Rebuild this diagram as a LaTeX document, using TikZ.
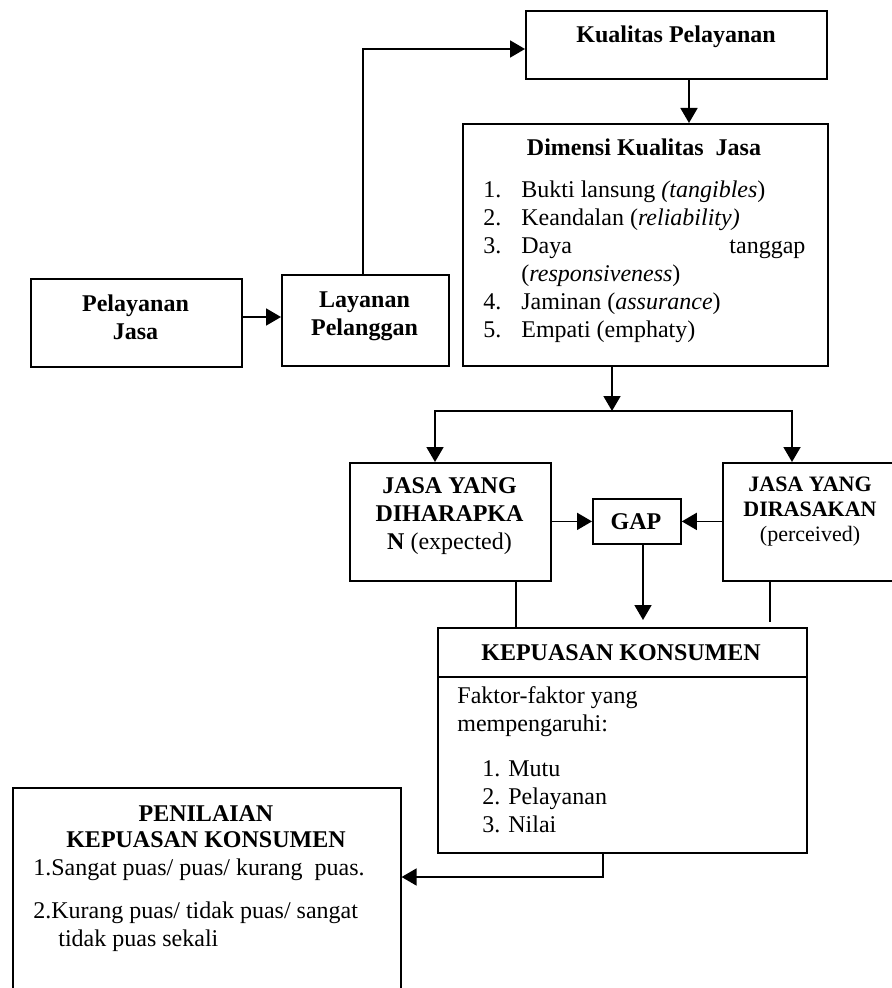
\documentclass[tikz,border=0pt]{standalone}
\usepackage{fontspec}
\setmainfont{Liberation Serif}
\usetikzlibrary{arrows.meta}

\tikzset{box/.style={draw,line width=0.9pt,inner sep=0pt,anchor=north west}}
\tikzset{txt/.style={inner sep=0pt,font=\fontsize{12}{14}\selectfont}}
\tikzset{arr/.style={line width=0.9pt,-{Triangle[length=7.5pt,width=8.5pt]}}}
\tikzset{lin/.style={line width=0.9pt}}

\begin{document}
\begin{tikzpicture}[x=0.5pt,y=-0.5pt]
	\useasboundingbox (0,0) rectangle (891,988);

	% boxes
	\node[box,minimum width=150.5pt,minimum height=34pt] (kualitas) at (525,10) {};
	\node[box,minimum width=182.5pt,minimum height=121pt] (dimensi) at (462,123) {};
	\node[box,minimum width=105.5pt,minimum height=44pt] (pelayanan) at (30,278) {};
	\node[box,minimum width=83.5pt,minimum height=45.5pt] (layanan) at (281,274) {};
	\node[box,minimum width=100.5pt,minimum height=59pt] (diharapkan) at (349,462) {};
	\node[box,minimum width=44pt,minimum height=22.5pt] (gap) at (592,498) {};
	\node[box,minimum width=88pt,minimum height=59pt] (dirasakan) at (722,462) {};
	\node[box,line width=0.8pt,minimum width=184.5pt,minimum height=112.5pt] (kepuasan) at (437,627) {};
	\node[box,line width=0.8pt,minimum width=194pt,minimum height=110pt] (penilaian) at (12,787) {};

	% texts
	\node[txt,anchor=base] (kualitasT) at (676,43) {\textbf{Kualitas Pelayanan}};
	\node[txt,anchor=north,align=center] (pelayananT) at (135.5,294.5) {\textbf{Pelayanan}\\\textbf{Jasa}};
	\node[txt,anchor=north,align=center] (layananT) at (364.5,291.5) {\textbf{Layanan}\\\textbf{Pelanggan}};
	\node[txt,anchor=base] (dimensiT) at (644,156) {\textbf{Dimensi Kualitas\ \ Jasa}};
	\node[txt,anchor=north west] (dimensiL) at (483,177.5) {%
		\begin{tabular}{@{}p{19pt}@{}p{142pt}@{}}
		1. & Bukti lansung \textit{(tangibles})\\
		2. & Keandalan (\textit{reliability)}\\
		3. & \makebox[\linewidth]{Daya\hfill tanggap}\\
		   & (\textit{responsiveness})\\
		4. & Jaminan (\textit{assurance})\\
		5. & Empati (emphaty)
		\end{tabular}};
	\node[txt,anchor=north,align=center] (diharapkanT) at (449.5,477) {\textbf{JASA YANG}\\\textbf{DIHARAPKA}\\\textbf{N} (expected)};
	\node[txt,anchor=base] (gapT) at (636,529) {\textbf{GAP}};
	\node[txt,anchor=north,align=center,font=\fontsize{11}{12.5}\selectfont] (dirasakanT) at (810,477) {\textbf{JASA YANG}\\\textbf{DIRASAKAN}\\(perceived)};
	\node[txt,anchor=base] (kepuasanT) at (621,660) {\textbf{KEPUASAN KONSUMEN}};
	\node[txt,anchor=north west,align=left] (kepuasanL) at (457,686.5) {Faktor-faktor yang\\mempengaruhi:\\[8.5pt]\hspace*{12.5pt}1. Mutu\\\hspace*{12.5pt}2. Pelayanan\\\hspace*{12.5pt}3. Nilai};
	\node[txt,anchor=north,align=center] (penilaianT) at (206,805.5) {\textbf{PENILAIAN}\\[-1pt]\textbf{KEPUASAN KONSUMEN}};
	\node[txt,anchor=north west,align=left] (penilaianL) at (33,858.5) {1.Sangat puas/ puas/ kurang\ \ puas.\\[7.5pt]2.Kurang puas/ tidak puas/ sangat\\\hspace*{12.5pt}tidak puas sekali};

	% connectors
	\coordinate (split) at (612,411);
	\draw[arr] (pelayanan.east |- 0,317) -- (layanan.west |- 0,317);
	\draw[arr] (layanan.north -| 363,0) |- (kualitas.west |- 0,49);
	\draw[arr] (kualitas.south -| 689,0) -- (dimensi.north -| 689,0);
	\draw[arr] (dimensi.south -| split) -- (split);
	\draw[arr] (split) -| (diharapkan.north -| 435,0);
	\draw[arr] (split) -| (dirasakan.north -| 792,0);
	\draw[arr] (diharapkan.east |- gap.west) -- (gap.west);
	\draw[arr] (dirasakan.west |- gap.east) -- (gap.east);
	\draw[arr,shorten >=3.5pt] (gap.south -| 643,0) -- (kepuasan.north -| 643,0);
	\draw[lin] (diharapkan.south -| 516,0) -- (kepuasan.north -| 516,0);
	\draw[lin,line width=0.7pt,shorten >=2.5pt] (dirasakan.south -| 770,0) -- (kepuasan.north -| 770,0);
	\draw[lin,line width=0.8pt] (kepuasan.west |- 0,677) -- (kepuasan.east |- 0,677);
	\draw[arr] (kepuasan.south -| 603,0) |- (penilaian.east |- 0,877);
\end{tikzpicture}
\end{document}
